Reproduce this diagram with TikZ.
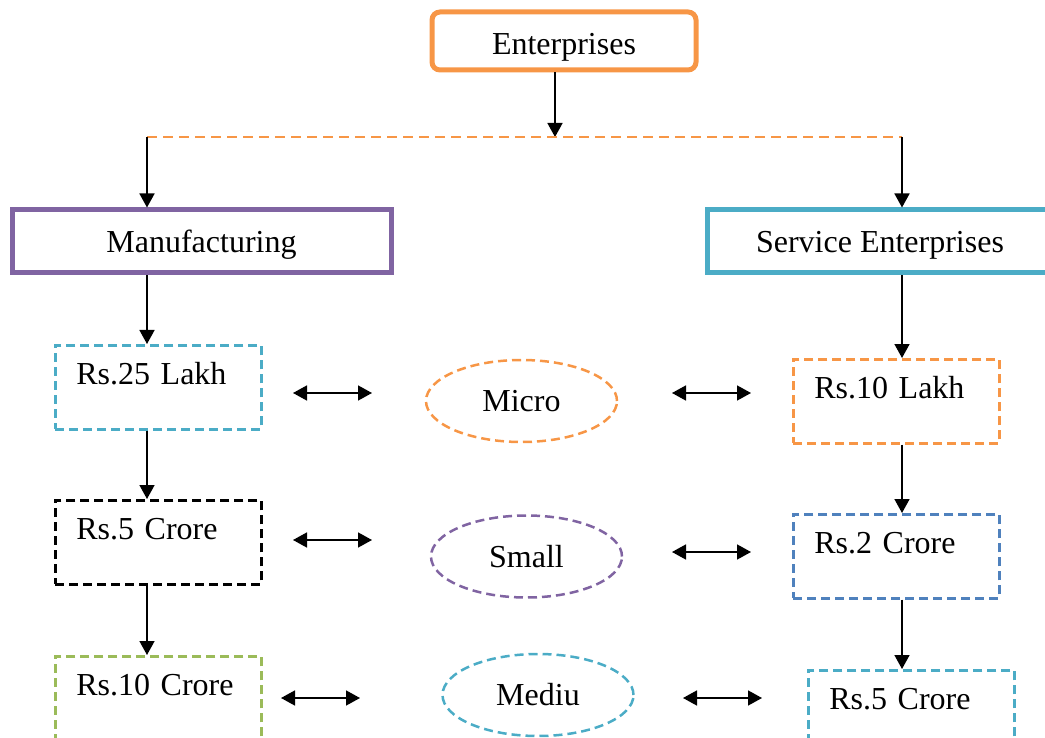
\documentclass[tikz,border=0pt]{standalone}
\usepackage{fontspec}
\setmainfont{Liberation Serif}
\usetikzlibrary{arrows.meta,shapes.geometric}
\definecolor{entorange}{HTML}{F79646}
\definecolor{manupurple}{HTML}{8064A2}
\definecolor{servteal}{HTML}{4BACC6}
\definecolor{valgreen}{HTML}{9BBB59}
\definecolor{valblue}{HTML}{4F81BD}
\tikzset{
    every node/.style={font=\fontsize{32}{38}\selectfont, inner sep=0pt},
    arr/.style={line width=1.6pt, -{Triangle[length=14pt, width=15pt]}},
    twoway/.style={line width=1.6pt, {Triangle[length=14pt, width=15pt]}-{Triangle[length=14pt, width=15pt]}},
    mainbox/.style={rectangle, line width=5pt, text height=43pt, text depth=20pt},
    valbox/.style={rectangle, line width=2.5pt, dash pattern=on 9pt off 5pt,
        anchor=north west, text width=164pt, align=left, inner xsep=21pt,
        text height=39pt, text depth=45pt},
    sizeoval/.style={ellipse, line width=2.5pt, dash pattern=on 9pt off 5pt,
        minimum width=191pt, minimum height=82pt}
}

\begin{document}
\begin{tikzpicture}[x=1pt, y=-1pt]
    \useasboundingbox (0, 0) rectangle (1045, 738);

    \node (ent) [rectangle, rounded corners=8pt, draw=entorange, line width=5pt,
        minimum width=264pt, text height=43pt, text depth=15pt] at (564, 41) {Enterprises};

    \node (manu) [mainbox, draw=manupurple, minimum width=379pt] at (201.5, 241.5) {Manufacturing};
    \node (serv) [mainbox, draw=servteal, minimum width=346pt] at (880, 241.5) {Service Enterprises};

    \node (r25l) [valbox, draw=servteal] at (54, 344) {Rs.25 Lakh};
    \node (r5c) [valbox, draw=black] at (54, 499) {Rs.5 Crore};
    \node (r10c) [valbox, draw=valgreen] at (54, 655) {Rs.10 Crore};

    \node (r10l) [valbox, draw=entorange] at (792, 358) {Rs.10 Lakh};
    \node (r2c) [valbox, draw=valblue] at (792, 513) {Rs.2 Crore};
    \node (r5cs) [valbox, draw=servteal] at (807, 669) {Rs.5 Crore};

    \node (micro) [sizeoval, draw=entorange] at (521.5, 401) {Micro};
    \node (small) [sizeoval, draw=manupurple] at (526.5, 556.5) {Small};
    \node (mediu) [sizeoval, draw=servteal] at (538, 695) {Mediu};

    % split line under the top box
    \coordinate (split) at (555, 137);
    \coordinate (splitl) at (147, 137);
    \coordinate (splitr) at (902, 137);

    \draw (ent.south -| split) edge [arr] (split);
    \draw (splitl) edge [entorange, line width=2pt, dash pattern=on 10pt off 6pt] (splitr);
    \draw (splitl) edge [arr] (manu.north -| splitl);
    \draw (splitr) edge [arr] (serv.north -| splitr);

    \draw (manu.south -| splitl) edge [arr] (r25l.north -| splitl);
    \draw (r25l.south -| splitl) edge [arr] (r5c.north -| splitl);
    \draw (r5c.south -| splitl) edge [arr] (r10c.north -| splitl);

    \draw (serv.south -| splitr) edge [arr] (r10l.north -| splitr);
    \draw (r10l.south -| splitr) edge [arr] (r2c.north -| splitr);
    \draw (r2c.south -| splitr) edge [arr] (r5cs.north -| splitr);

    % two-way arrows
    \coordinate (m1) at (293, 393);
    \coordinate (m2) at (372, 393);
    \coordinate (m3) at (672, 393);
    \coordinate (m4) at (751, 393);
    \coordinate (s1) at (293, 540);
    \coordinate (s2) at (372, 540);
    \coordinate (s3) at (672, 552);
    \coordinate (s4) at (751, 552);
    \coordinate (d1) at (281, 698);
    \coordinate (d2) at (360, 698);
    \coordinate (d3) at (683, 698);
    \coordinate (d4) at (762, 698);

    \draw (m1) edge [twoway] (m2);
    \draw (m3) edge [twoway] (m4);
    \draw (s1) edge [twoway] (s2);
    \draw (s3) edge [twoway] (s4);
    \draw (d1) edge [twoway] (d2);
    \draw (d3) edge [twoway] (d4);
\end{tikzpicture}
\end{document}
